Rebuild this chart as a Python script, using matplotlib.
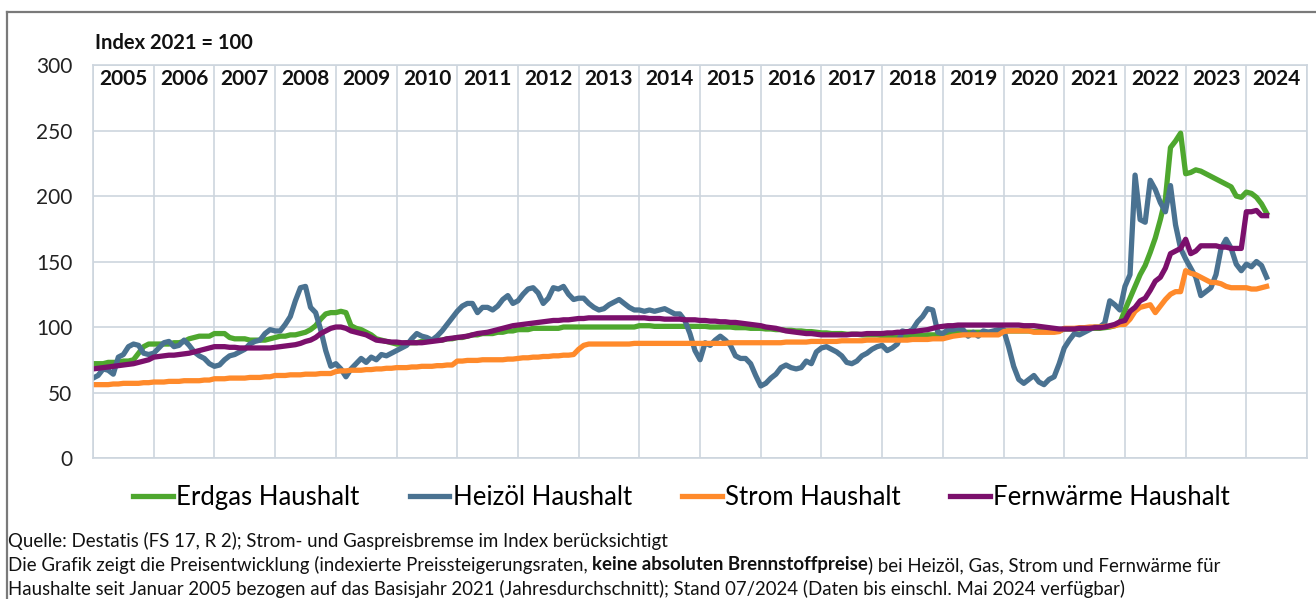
import numpy as np
import matplotlib.pyplot as plt
from matplotlib.lines import Line2D

# Monatswerte Jan 2005 - Mai 2024, Index 2021 = 100
years = list(range(2005, 2025))

erdgas = [
    72, 72, 72, 73, 73, 73, 74, 74, 75, 80, 85, 87,            # 2005
    87, 87, 87, 87, 88, 88, 89, 91, 92, 93, 93, 93,            # 2006
    95, 95, 95, 92, 91, 91, 91, 90, 90, 90, 90, 91,            # 2007
    92, 93, 93, 94, 94, 95, 96, 98, 101, 106, 110, 111,        # 2008
    111, 112, 111, 101, 99, 98, 96, 94, 91, 90, 89, 88,        # 2009
    87, 87, 88, 88, 88, 89, 89, 90, 90, 90, 91, 91,            # 2010
    92, 92, 93, 94, 94, 95, 95, 95, 96, 96, 97, 97,            # 2011
    98, 98, 98, 99, 99, 99, 99, 99, 99, 100, 100, 100,         # 2012
    100, 100, 100, 100, 100, 100, 100, 100, 100, 100, 100, 100,  # 2013
    101, 101, 101, 100.5, 100.5, 100.5, 100.5, 100.5, 100.5, 100.5, 100.5, 100.5,  # 2014
    100.5, 100.5, 100, 100, 100, 100, 100, 99.5, 99.5, 99.5, 99, 99,  # 2015
    99, 98.5, 98.5, 98, 98, 97.5, 97.5, 97, 97, 96.5, 96.5, 96,       # 2016
    95.5, 95.5, 95, 95, 95, 94.5, 94.5, 94.5, 94, 94, 94, 94,         # 2017
    93.5, 93.5, 93.5, 93.5, 93.5, 93.5, 93.5, 93.5, 93.5, 94, 94, 94,  # 2018
    95, 95.5, 96, 96, 96, 96, 96, 96, 96, 96, 96, 96,                 # 2019
    97, 97, 97, 97, 97, 97, 96.5, 96.5, 96.5, 96.5, 96.5, 97,         # 2020
    98.5, 98.5, 98.5, 98.5, 99, 99, 99, 99, 99.5, 100, 101, 103,      # 2021
    113, 122, 131, 140, 147, 157, 168, 182, 198, 237, 242, 248,       # 2022
    217, 218, 220, 219, 217, 215, 213, 211, 209, 207, 200, 199,       # 2023
    203, 202, 199, 194, 187,                                          # 2024
]

heizoel = [
    61, 63, 68, 67, 64, 77, 79, 85, 87, 86, 80, 79,
    80, 84, 88, 89, 85, 86, 90, 86, 81, 78, 76, 72,
    70, 71, 75, 78, 79, 81, 83, 87, 89, 90, 95, 98,
    97, 97, 102, 108, 120, 130, 131, 115, 111, 98, 82, 70,
    72, 68, 62, 68, 72, 76, 73, 77, 75, 79, 78, 80,
    82, 84, 86, 91, 95, 93, 92, 90, 93, 97, 102, 107,
    112, 116, 118, 118, 111, 115, 115, 113, 116, 121, 124, 118,
    120, 125, 129, 130, 126, 118, 122, 130, 129, 131, 125, 121,
    122, 122, 118, 115, 113, 114, 117, 119, 121, 118, 115, 113,
    113, 112, 113, 112, 113, 114, 112, 110, 110, 105, 95, 82,
    75, 88, 86, 90, 93, 90, 86, 78, 76, 76, 72, 63,
    55, 57, 61, 64, 69, 71, 69, 68, 69, 74, 72, 81,
    84, 85, 83, 81, 78, 73, 72, 74, 78, 80, 83, 85,
    86, 82, 84, 87, 97, 96, 98, 104, 108, 114, 113, 96,
    95, 98, 98, 99, 98, 93, 96, 93, 97, 96, 97, 98,
    98, 85, 70, 60, 57, 60, 63, 58, 56, 60, 62, 72,
    84, 90, 95, 94, 96, 98, 100, 100, 103, 120, 117, 113,
    131, 140, 216, 182, 180, 212, 205, 195, 188, 208, 178, 160,
    152, 145, 138, 124, 127, 130, 140, 160, 167, 160, 148, 143,
    148, 146, 150, 147, 138,
]

strom = [
    56, 56, 56, 56, 56.5, 56.5, 57, 57, 57, 57, 57.5, 57.5,
    58, 58, 58, 58.5, 58.5, 58.5, 59, 59, 59, 59, 59.5, 59.5,
    60.5, 60.5, 60.5, 61, 61, 61, 61, 61.5, 61.5, 61.5, 62, 62,
    63, 63, 63, 63.5, 63.5, 63.5, 64, 64, 64, 64.5, 64.5, 64.5,
    66, 66.5, 66.5, 67, 67, 67, 67.5, 67.5, 68, 68, 68.5, 68.5,
    69, 69, 69, 69.5, 69.5, 70, 70, 70, 70.5, 70.5, 71, 71,
    74, 74, 74.5, 74.5, 74.5, 75, 75, 75, 75, 75, 75.5, 75.5,
    76, 76.5, 76.5, 77, 77, 77.5, 77.5, 78, 78, 78.5, 78.5, 79,
    83, 86, 87, 87, 87, 87, 87, 87, 87, 87, 87, 87.5,
    87.5, 87.5, 87.5, 87.5, 87.5, 87.5, 87.5, 87.5, 87.5, 87.5, 87.5, 87.5,
    87.5, 87.5, 87.5, 87.5, 87.5, 87.5, 88, 88, 88, 88, 88, 88,
    88, 88, 88, 88, 88, 88.5, 88.5, 88.5, 88.5, 88.5, 89, 89,
    89, 89, 89, 89, 89.5, 89.5, 89.5, 89.5, 89.5, 90, 90, 90,
    90, 90, 90, 90, 90, 90, 90.5, 90.5, 90.5, 90.5, 91, 91,
    91, 92, 93, 93.5, 94, 94, 94, 94, 94, 94, 94, 94,
    96.5, 97, 97, 97, 97, 97, 96, 96, 96, 96, 96, 96.5,
    99, 99, 99, 99.5, 99.5, 100, 100, 100, 100.5, 100.5, 101, 102,
    102, 106, 112, 115, 116, 117, 111, 116, 121, 125, 127, 127,
    143, 141, 140, 138, 136, 134, 134, 133, 131, 130, 130, 130,
    130, 129, 129, 130, 131,
]

fernwaerme = [
    68, 68.5, 69, 69.5, 70, 70.5, 71, 71.5, 72, 73, 74, 75,
    77, 77.5, 78, 78.5, 78.5, 79, 79.5, 80, 81, 82, 83, 84,
    85, 85, 85, 84.5, 84.5, 84, 84, 84, 84, 84, 84, 84,
    84.5, 85, 85.5, 86, 86.5, 87.5, 89, 90, 92, 95, 97, 99,
    100, 100, 99, 97, 96, 95, 94, 92, 90, 89.5, 89, 88.5,
    88.5, 88, 88, 88, 88, 88, 88.5, 89, 89.5, 90, 91, 91.5,
    92, 92.5, 93, 94, 95, 95.5, 96, 97, 98, 99, 100, 101,
    101.5, 102, 102.5, 103, 103.5, 104, 104.5, 105, 105, 105.5, 105.5, 106,
    106.5, 106.5, 107, 107, 107, 107, 107, 107, 107, 107, 107, 107,
    107, 107, 106.5, 106.5, 106.5, 106, 106, 106, 106, 105.5, 105.5, 105.5,
    105, 105, 104.5, 104.5, 104, 104, 103.5, 103.5, 103, 102.5, 102, 101.5,
    101, 100, 99.5, 99, 98, 97, 96.5, 96, 95.5, 95, 95, 94.5,
    94, 94, 94, 94, 94, 94, 94.5, 94.5, 94.5, 95, 95, 95,
    95, 95.5, 95.5, 96, 96, 96.5, 96.5, 97, 97.5, 98, 99, 100,
    100.5, 101, 101, 101.5, 101.5, 101.5, 101.5, 101.5, 101.5, 101.5, 101.5, 101.5,
    101.5, 101.5, 101.5, 101.5, 101, 101, 101, 100.5, 100, 99.5, 99, 98.5,
    98.5, 98.5, 98.5, 99, 99, 99, 99.5, 99.5, 100, 101, 102, 104,
    105, 112, 115, 120, 122, 128, 135, 138, 145, 156, 158, 160,
    167, 156, 158, 162, 162, 162, 162, 161, 161, 160, 160, 160,
    188, 188, 189, 185, 185,
]

series = [
    ("Erdgas Haushalt", erdgas, "#4ea72e"),
    ("Heizöl Haushalt", heizoel, "#4a7291"),
    ("Strom Haushalt", strom, "#ff8a2b"),
    ("Fernwärme Haushalt", fernwaerme, "#7b106c"),
]

plt.rcParams["font.family"] = ["Lato", "DejaVu Sans"]
grid_col = "#cdd5de"

fig = plt.figure(figsize=(13.16, 5.99), dpi=100)
ax = fig.add_axes([0.0707, 0.2354, 0.9225, 0.656])

for name, vals, col in series:
    x = np.arange(len(vals))
    ax.plot(x, vals, color=col, lw=3.8, solid_joinstyle="round", label=name)

ax.set_xlim(0, 12 * len(years))
ax.set_ylim(0, 300)
ax.set_yticks(np.arange(0, 301, 50))
ax.set_xticks(np.arange(0, 12 * len(years) + 1, 12))
ax.set_xticklabels([])
ax.tick_params(axis="both", length=0)
ax.tick_params(axis="y", labelsize=15, pad=15, labelcolor="#222222")
ax.grid(True, color=grid_col, lw=1.2)
ax.set_axisbelow(True)
for s in ax.spines.values():
    s.set_color(grid_col)
    s.set_linewidth(1.2)

trans = ax.get_xaxis_transform()
for i, yr in enumerate(years):
    ax.text(12 * i + 6, 0.965, str(yr), transform=trans, ha="center", va="center",
            fontsize=15, fontweight="bold", color="#111111")

fig.text(0.072, 0.928, "Index 2021 = 100", fontsize=14.5, fontweight="bold",
         ha="left", va="center", color="#111111")

fig.legend(loc="center", bbox_to_anchor=(0.518, 0.17), ncol=4, frameon=False,
           fontsize=18.5, handlelength=1.55, handletextpad=0.12, columnspacing=1.95)

# Rahmen
fig.add_artist(Line2D([0.0053, 0.0053], [0, 0.98], color="#7a7a7a", lw=1.6))
fig.add_artist(Line2D([0.0053, 1.0], [0.98, 0.98], color="#7a7a7a", lw=1.6))

# Fußnote
fs = 13.4
fig.text(0.006, 0.097, "Quelle: Destatis (FS 17, R 2); Strom- und Gaspreisbremse im Index berücksichtigt",
         fontsize=fs, va="center", ha="left", color="#111111")
fig.canvas.draw()
r = fig.canvas.get_renderer()
parts = [("Die Grafik zeigt die Preisentwicklung (indexierte Preissteigerungsraten, ", "normal"),
         ("keine absoluten Brennstoffpreise", "bold"),
         (") bei Heizöl, Gas, Strom und Fernwärme für", "normal")]
xpos = 0.006
for txt, w in parts:
    t = fig.text(xpos, 0.057, txt, fontsize=fs, fontweight=w, va="center", ha="left", color="#111111")
    bb = t.get_window_extent(renderer=r)
    xpos = bb.x1 / fig.bbox.width
fig.text(0.006, 0.017, "Haushalte seit Januar 2005 bezogen auf das Basisjahr 2021 (Jahresdurchschnitt); "
         "Stand 07/2024 (Daten bis einschl. Mai 2024 verfügbar)",
         fontsize=fs, va="center", ha="left", color="#111111")

fig.savefig("out.png", dpi=100)
